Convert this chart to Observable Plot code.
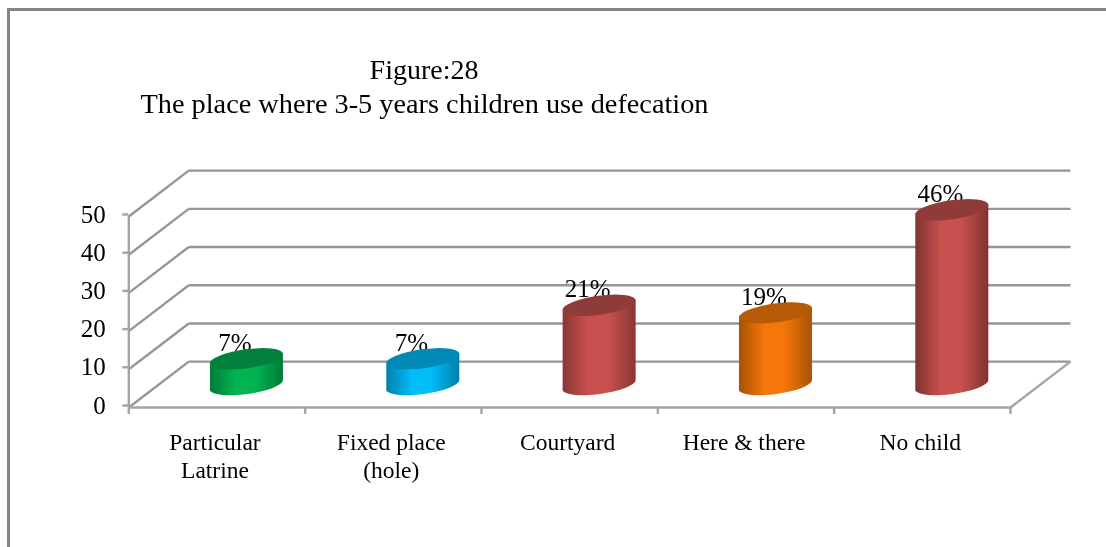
<!DOCTYPE html>
<html>
<head>
<meta charset="utf-8">
<script src="https://cdn.jsdelivr.net/npm/d3@7"></script>
<script src="https://cdn.jsdelivr.net/npm/@observablehq/plot@0.6"></script>
<style>
  html, body { margin: 0; padding: 0; background: #fff; }
  #wrap { position: relative; width: 1106px; height: 547px; overflow: hidden; }
  #border { position: absolute; left: 7px; top: 8px; right: -5px; bottom: -5px;
            border-left: 3px solid #858585; border-top: 3px solid #858585; }
  svg { display: block; position: absolute; left: 0; top: 0; }
</style>
</head>
<body>
<div id="wrap"><div id="border"></div></div>
<script>
const categories = ["Particular\nLatrine", "Fixed place\n(hole)", "Courtyard", "Here & there", "No child"];
const values = [7, 7, 21, 19, 46];
const bright = ["#00b44f", "#00bcf7", "#c9504f", "#f5760a", "#c9504f"];
const edge   = ["#007a3a", "#0080ad", "#8a3735", "#a85205", "#7f3331"];
const topCap = ["#00803c", "#0088b6", "#8f3b39", "#b65a05", "#8f3b39"];
const yTicks = [0, 10, 20, 30, 40, 50];
const xEdges = [0, 1, 2, 3, 4, 5];
const titleLines = ["Figure:28", "The place where 3-5 years children use defecation"];

const depthX = 0.34;   // back wall offset, x units
const depthY = 12;     // back wall offset, y units
const gridColor = "#969696";
const floorColor = "#a4a4a4";

const rows = values.map((v, i) => ({i, v, label: v + "%"}));

function cylinders(index, scales, vals, dims, context) {
  const g = d3.create("svg:g");
  const defs = g.append("defs");
  const a = 37, b = 9.5, rot = -7.8;
  const tipX = 36.5, tipY = 5;
  const baseShift = scales.y(0) - scales.y(5.5) + 0.5;
  for (const k of index) {
    const id = "cyl" + k;
    const gr = defs.append("linearGradient").attr("id", id);
    [[0, edge[k]], [0.35, bright[k]], [0.62, bright[k]], [1, edge[k]]].forEach(([o, c]) =>
      gr.append("stop").attr("offset", o).attr("stop-color", c));
    const cx = vals.x[k], topY = vals.y[k] - baseShift;
    const botY = scales.y(0) - baseShift;
    g.append("path")
      .attr("fill", `url(#${id})`)
      .attr("d", `M${cx - tipX},${topY + tipY} L${cx - tipX},${botY + tipY} ` +
                 `A${a},${b} ${rot} 0 0 ${cx + tipX},${botY - tipY} L${cx + tipX},${topY - tipY} ` +
                 `A${a},${b} ${rot} 0 1 ${cx - tipX},${topY + tipY} Z`);
    g.append("ellipse")
      .attr("cx", cx).attr("cy", topY).attr("rx", a).attr("ry", b)
      .attr("transform", `rotate(${rot} ${cx} ${topY})`)
      .attr("fill", topCap[k]);
  }
  return g.node();
}

const chart = Plot.plot({
  width: 1106,
  height: 547,
  marginLeft: 128.3,
  marginRight: 96,
  marginTop: 216,
  marginBottom: 140,
  x: {domain: [0, 5], axis: null},
  y: {domain: [0, 50], axis: null},
  style: {fontFamily: "'Liberation Serif', serif", background: "transparent", color: "#000", filter: "blur(0.35px)"},
  marks: [
    // back wall grid
    Plot.link(yTicks, {x1: depthX, x2: 5 + depthX, y1: d => d + depthY, y2: d => d + depthY,
      stroke: gridColor, strokeWidth: 2.4}),
    // side wall diagonals
    Plot.link(yTicks, {x1: 0, x2: depthX, y1: d => d, y2: d => d + depthY,
      stroke: gridColor, strokeWidth: 2.4}),
    // floor right diagonal
    Plot.link([0], {x1: 5, x2: 5 + depthX, y1: 0, y2: depthY, stroke: floorColor, strokeWidth: 2.4}),
    // floor front edge and y axis line
    Plot.ruleY([0], {stroke: floorColor, strokeWidth: 2.4}),
    Plot.ruleX([0], {stroke: floorColor, strokeWidth: 2.4}),
    Plot.axisY({ticks: yTicks, tickSize: 6, tickPadding: 17, stroke: floorColor, strokeWidth: 2.4, label: null,
      fill: "#000", fontSize: 25, dy: -2, marginLeft: 0}),
    Plot.axisX({ticks: xEdges, tickSize: 7, tickFormat: () => "", stroke: floorColor, strokeWidth: 2.4, label: null}),
    Plot.axisX({ticks: categories.map((c, i) => i + 0.5), tickSize: 0, tickPadding: 23, label: null,
      tickFormat: d => categories[d - 0.5], fontSize: 23.5, lineHeight: 1.17, fill: "#000", dx: -2, lineAnchor: "top"}),
    // data labels behind the cylinders
    Plot.text(rows, {x: d => d.i + 0.5 + depthX / 2, y: "v", text: "label", fontSize: 25, fill: "#000",
      dx: -12, dy: -23 - 7, lineAnchor: "bottom"}),
    // cylinders
    Plot.dot(rows, {x: d => d.i + 0.5 + depthX / 2, y: "v", r: 1, render: cylinders}),
    // title
    Plot.text([titleLines[0]], {frameAnchor: "top-left", dx: 423.5 - 128.3, dy: 62 - 216 - 3, textAnchor: "middle", lineAnchor: "top", fontSize: 28, fill: "#000"}),
    Plot.text([titleLines[1]], {frameAnchor: "top-left", dx: 140 - 128.3, dy: 94 - 216 - 2, textAnchor: "start", lineAnchor: "top", fontSize: 28.3, fill: "#000"})
  ]
});
document.getElementById("wrap").appendChild(chart);
</script>
</body>
</html>
